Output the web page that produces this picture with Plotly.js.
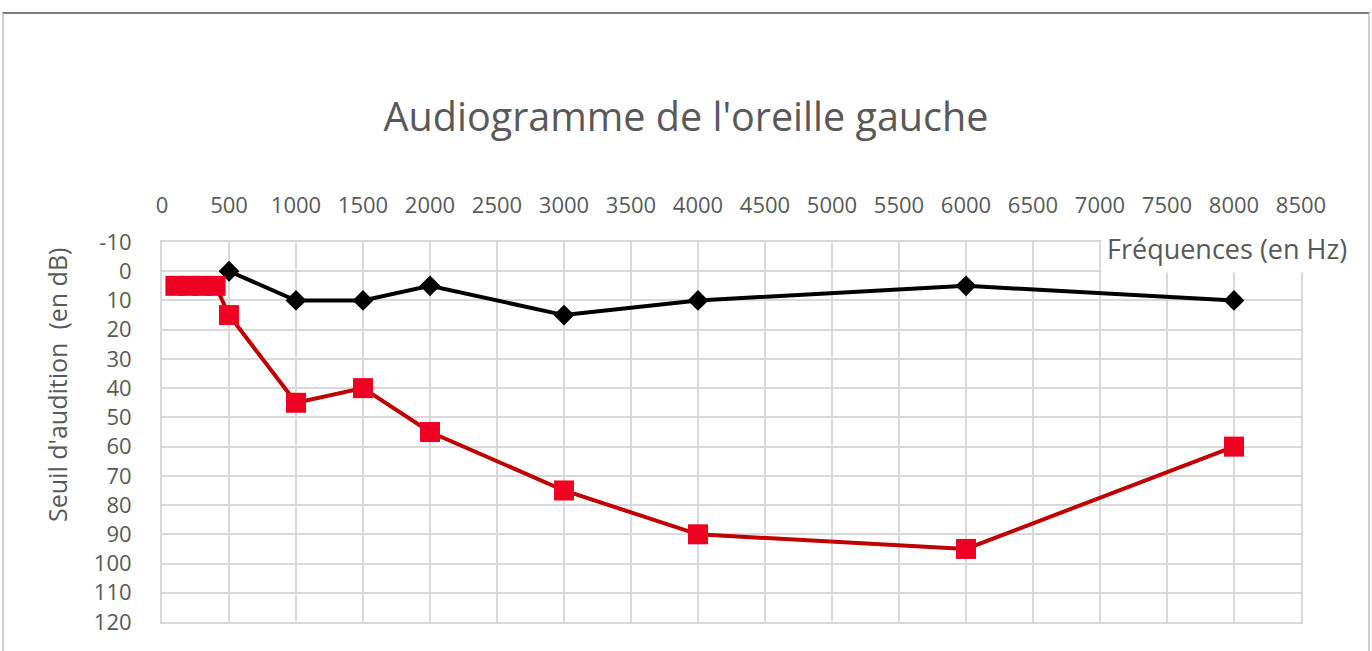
<!DOCTYPE html>
<html>
<head>
<meta charset="utf-8">
<script src="https://cdn.plot.ly/plotly-3.0.1.min.js"></script>
<style>
html,body{margin:0;padding:0;background:#fff;overflow:hidden;}
#frame{position:absolute;left:2px;top:12px;width:1364px;height:660px;border-top:2px solid #7a7a7a;border-left:2px solid #d0d0d0;border-right:2px solid #d0d0d0;}
#chart{position:absolute;left:0;top:0;width:1372px;height:651px;}
</style>
</head>
<body>
<div id="chart"></div>
<div id="frame"></div>
<script>
const title = "Audiogramme de l'oreille gauche";
const xTitle = "Fréquences (en Hz)";
const yTitle = "Seuil d'audition  (en dB)";

const normalFreq = [500, 1000, 1500, 2000, 3000, 4000, 6000, 8000];
const normalDb   = [0, 10, 10, 5, 15, 10, 5, 10];

const leftFreq = [100, 200, 300, 400, 500, 1000, 1500, 2000, 3000, 4000, 6000, 8000];
const leftDb   = [5, 5, 5, 5, 15, 45, 40, 55, 75, 90, 95, 60];

const xTicks = [0,500,1000,1500,2000,2500,3000,3500,4000,4500,5000,5500,6000,6500,7000,7500,8000,8500];
const yTicks = [-10,0,10,20,30,40,50,60,70,80,90,100,110,120];

const font = "'Open Sans', sans-serif";
const grey = "#595959";

const traces = [
  {
    x: normalFreq, y: normalDb, type: 'scatter', mode: 'lines+markers',
    line: {color: '#000000', width: 4},
    marker: {symbol: 'diamond', size: 16, color: '#000000'},
    showlegend: false, cliponaxis: false
  },
  {
    x: leftFreq, y: leftDb, type: 'scatter', mode: 'lines+markers',
    line: {color: '#C00000', width: 4},
    marker: {symbol: 'square', size: 20, color: '#EE0022'},
    showlegend: false, cliponaxis: false
  }
];

const layout = {
  width: 1372, height: 651,
  margin: {l: 162, r: 71, t: 242, b: 29},
  paper_bgcolor: '#ffffff', plot_bgcolor: '#ffffff',
  font: {family: font, color: grey},
  title: {text: title, font: {family: font, size: 39.5, color: grey}, x: 0.5, xref: 'container', y: 1 - 117/651, yref: 'container', yanchor: 'middle'},
  xaxis: {
    side: 'top', range: [0, 8500], tickvals: xTicks, ticktext: xTicks.map(String),
    showgrid: true, gridcolor: '#d9d9d9', gridwidth: 2,
    zeroline: false, showline: true, linecolor: '#d9d9d9', linewidth: 2, mirror: true,
    ticks: '', ticklabelstandoff: 18,
    tickfont: {family: font, size: 22, color: grey}
  },
  yaxis: {
    range: [120, -10], tickvals: yTicks, ticktext: yTicks.map(String),
    showgrid: true, gridcolor: '#d9d9d9', gridwidth: 2,
    zeroline: false, showline: true, linecolor: '#d9d9d9', linewidth: 2, mirror: true,
    ticks: '', ticklabelstandoff: 24,
    tickfont: {family: font, size: 22, color: grey}
  },
  annotations: [
    {
      text: xTitle, xref: 'paper', yref: 'paper', x: (1353-162)/1139, y: (622-248)/380, xanchor: 'right', yanchor: 'middle',
      showarrow: false, bgcolor: '#ffffff', borderpad: 5,
      font: {family: font, size: 27, color: grey}
    },
    {
      text: yTitle, xref: 'paper', yref: 'paper', x: (57-162)/1139, y: (622-385)/380, xanchor: 'center', yanchor: 'middle',
      textangle: -90, showarrow: false,
      font: {family: font, size: 25, color: grey}
    }
  ]
};

Plotly.newPlot('chart', traces, layout, {displayModeBar: false, staticPlot: true});
</script>
</body>
</html>
